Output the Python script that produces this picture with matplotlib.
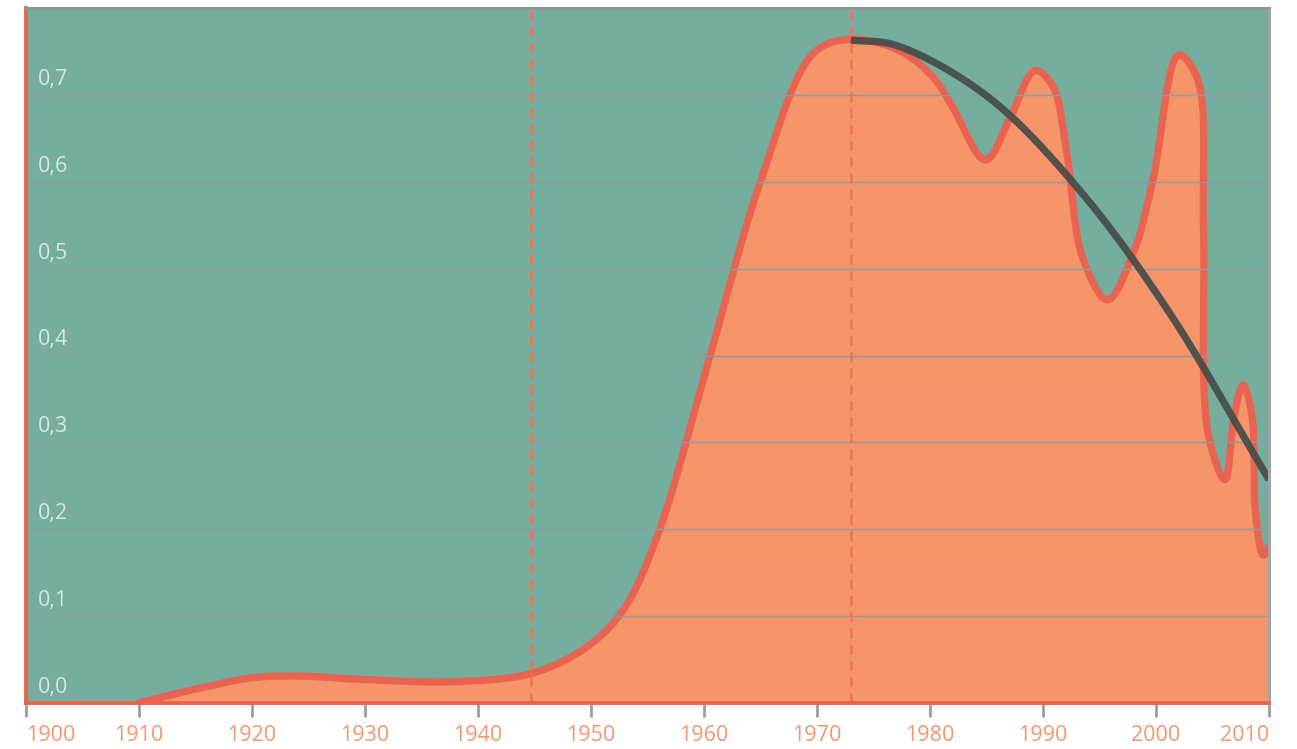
import numpy as np
import matplotlib
matplotlib.use("Agg")
import matplotlib.pyplot as plt

# ---- data ----
curve_years = [1910, 1915, 1920, 1924, 1930, 1938, 1945, 1950, 1953, 1956,
               1960.5, 1965, 1969.7, 1973, 1977.3, 1980.3, 1982, 1984.9,
               1987.1, 1989.3, 1990.9, 1992.1, 1993.5, 1995.7, 1998, 1999.7, 2002,
               2003.7, 2004.2, 2004.6, 2006.1, 2006.9, 2007.7, 2008.5, 2008.8, 2009.5, 2010]
curve_values = [0.0, 0.016, 0.029, 0.031, 0.027, 0.0245, 0.035, 0.068, 0.11, 0.197,
                0.398, 0.60, 0.748, 0.764, 0.751, 0.72, 0.686, 0.625,
                0.674, 0.728, 0.709, 0.633, 0.513, 0.464, 0.518, 0.60, 0.746,
                0.717, 0.55, 0.311, 0.257, 0.33, 0.366, 0.33, 0.22, 0.17, 0.18]

trend_years = [1973, 1977, 1985, 1993, 2001, 2010]
trend_values = [0.763, 0.757, 0.699, 0.594, 0.453, 0.257]

marker_years = [1944.7, 1973.0]

x_ticks = list(range(1900, 2011, 10))
y_ticks = [0.0, 0.1, 0.2, 0.3, 0.4, 0.5, 0.6, 0.7]
y_tick_labels = ["0,0", "0,1", "0,2", "0,3", "0,4", "0,5", "0,6", "0,7"]

# ---- colours ----
BG = "#75ad9f"
FILL = "#f6946a"
LINE = "#e86350"
DARK = "#464c4a"
GRID = "#8e9aa4"
XLAB = "#f7966e"
YLAB = "#d6e8e0"
DASH = "#f0744f"

plt.rcParams['font.family'] = ['Open Sans', 'DejaVu Sans']

fig = plt.figure(figsize=(12.97, 7.49), dpi=100)
ax = fig.add_axes([26 / 1297, 1 - 703 / 749, (1269 - 26) / 1297, (703 - 8) / 749])
ax.set_facecolor(BG)
ax.set_xlim(1900, 2010)
ax.set_ylim(0, 0.8)


def catmull_rom(ax, xs, ys, n=40, alpha=0.5):
    """Centripetal Catmull-Rom through data points, computed in display space."""
    P = ax.transData.transform(np.column_stack([xs, ys]))
    P = np.vstack([2 * P[0] - P[1], P, 2 * P[-1] - P[-2]])
    out = []
    for i in range(1, len(P) - 2):
        p0, p1, p2, p3 = P[i - 1], P[i], P[i + 1], P[i + 2]
        t0 = 0.0
        t1 = t0 + max(np.linalg.norm(p1 - p0), 1e-6) ** alpha
        t2 = t1 + max(np.linalg.norm(p2 - p1), 1e-6) ** alpha
        t3 = t2 + max(np.linalg.norm(p3 - p2), 1e-6) ** alpha
        t = np.linspace(t1, t2, n)[:, None]
        A1 = (t1 - t) / (t1 - t0) * p0 + (t - t0) / (t1 - t0) * p1
        A2 = (t2 - t) / (t2 - t1) * p1 + (t - t1) / (t2 - t1) * p2
        A3 = (t3 - t) / (t3 - t2) * p2 + (t - t2) / (t3 - t2) * p3
        B1 = (t2 - t) / (t2 - t0) * A1 + (t - t0) / (t2 - t0) * A2
        B2 = (t3 - t) / (t3 - t1) * A2 + (t - t1) / (t3 - t1) * A3
        C = (t2 - t) / (t2 - t1) * B1 + (t - t1) / (t2 - t1) * B2
        out.append(C if i == 1 else C[1:])
    D = np.vstack(out)
    D = ax.transData.inverted().transform(D)
    return D[:, 0], D[:, 1]


cx, cy = catmull_rom(ax, curve_years, curve_values)
tx, ty = catmull_rom(ax, trend_years, trend_values)

# filled area
fx = np.concatenate([cx, [cx[-1], cx[0]]])
fy = np.concatenate([cy, [0, 0]])
ax.fill(fx, fy, color=FILL, lw=0, zorder=1)
ax.plot(cx, cy, color=LINE, lw=5.2, solid_capstyle='round', solid_joinstyle='round', zorder=2)

# grid
for v in y_ticks[1:]:
    ax.axhline(v, color=GRID, lw=1.0, zorder=3)

# vertical dashed markers
for m in marker_years:
    ax.axvline(m, color=DASH, lw=1.8, ls=(0, (4, 2.5)), zorder=4)

# trend line
ax.plot(tx, ty, color=DARK, lw=5.2, alpha=0.92, solid_capstyle='butt', zorder=5)

# spines
ax.spines['left'].set_color(LINE)
ax.spines['left'].set_linewidth(2.8)
ax.spines['bottom'].set_color(LINE)
ax.spines['bottom'].set_linewidth(2.8)
ax.spines['top'].set_color("#8d9596")
ax.spines['top'].set_linewidth(2.2)
ax.spines['right'].set_color("#a0a4a8")
ax.spines['right'].set_linewidth(2.2)
for s in ax.spines.values():
    s.set_zorder(6)

# x ticks
ax.set_xticks(x_ticks)
ax.set_xticklabels([str(y) for y in x_ticks])
ax.tick_params(axis='x', length=10, width=2, color="#9a9ea4", pad=6,
               labelsize=15.5, labelcolor=XLAB)
labels = ax.get_xticklabels()
labels[0].set_horizontalalignment('left')
labels[-1].set_horizontalalignment('right')

# y labels inside the plot
ax.set_yticks([])
for v, lab in zip(y_ticks, y_tick_labels):
    ax.annotate(lab, xy=(1900, v), xytext=(12, 10), textcoords='offset pixels',
                ha='left', va='baseline', fontsize=15.5, color=YLAB, zorder=7)

fig.savefig("out.png", dpi=100)
